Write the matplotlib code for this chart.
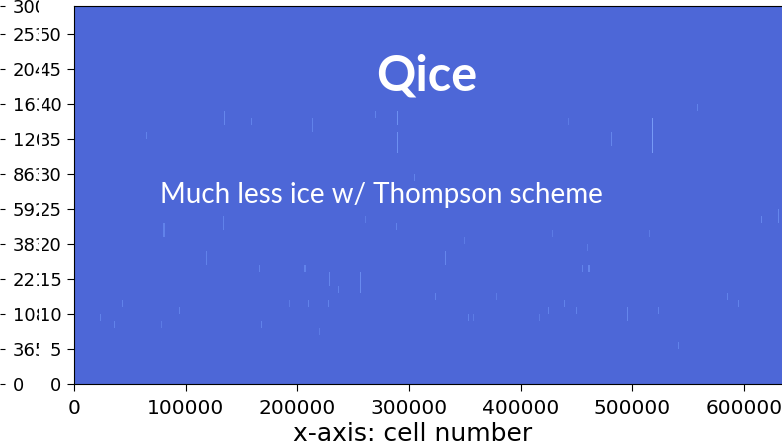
import numpy as np
import matplotlib.pyplot as plt
from matplotlib.transforms import Bbox, TransformedBbox

# mesh size and vertical levels
n_cells = 655362
n_levels = 54
col_width = 1000  # cells per image column

# thin ice columns: first cell, lowest level, highest level, value
ice_cell = [64000, 134000, 158000, 213000, 269000, 289000, 289000, 304000,
            557000, 442000, 480000, 517000, 80000, 133000, 260000, 288000,
            614000, 629000, 427000, 514000, 118000, 165000, 206000, 349000,
            332000, 459000, 454000, 460000, 228000, 236000, 256000, 43000,
            94000, 23000, 36000, 78000, 167000, 192000, 209000, 227000,
            323000, 377000, 352000, 357000, 424000, 416000, 219000, 438000,
            449000, 494000, 522000, 584000, 594000, 540000]
ice_lo = [35, 37, 37, 36, 38, 37, 33, 29, 39, 37, 34, 33, 21, 22, 23, 22,
          23, 23, 21, 21, 17, 16, 16, 20, 17, 19, 16, 16, 14, 13, 13, 11,
          10, 9, 8, 8, 8, 11, 11, 11, 12, 12, 9, 9, 10, 9, 7, 11,
          10, 9, 10, 12, 11, 5]
ice_hi = [35, 38, 37, 37, 38, 38, 35, 29, 39, 37, 35, 37, 22, 23, 23, 22,
          23, 24, 21, 21, 18, 16, 16, 20, 18, 19, 16, 16, 15, 13, 15, 11,
          10, 9, 8, 8, 8, 11, 11, 11, 12, 12, 9, 9, 10, 9, 7, 11,
          10, 10, 10, 12, 11, 5]
ice_val = [0.5, 0.6, 0.5, 0.5, 0.5, 0.8, 0.8, 0.5, 0.5, 0.4, 0.6, 1.0,
           0.5, 0.5, 0.4, 0.5, 0.6, 0.6, 0.4, 0.4, 0.5, 0.5, 0.5, 0.4,
           0.6, 0.4, 0.5, 0.6, 0.6, 0.5, 0.7, 0.5, 0.5, 0.5, 0.5, 0.4,
           0.5, 0.4, 0.5, 0.5, 0.5, 0.4, 0.5, 0.4, 0.5, 0.4, 0.4, 0.5,
           0.5, 0.6, 0.5, 0.5, 0.5, 0.5]

x_ticks = [0, 100000, 200000, 300000, 400000, 500000, 600000]
x_labels = ["0", "100000", "200000", "300000", "400000", "500000", "600000"]
level_ticks = [0, 5, 10, 15, 20, 25, 30, 35, 40, 45, 50]
height_ticks = [0, 5, 10, 15, 20, 25, 30, 35, 40, 45, 50, 54]
height_labels = ["0", "365", "1080", "2215", "3830", "5925", "8630",
                 "12085", "16310", "20445", "25350", "30000"]

ncol = n_cells // col_width + 1
qice = np.zeros((n_levels, ncol))
for c, lo, hi, v in zip(ice_cell, ice_lo, ice_hi, ice_val):
    qice[lo:hi + 1, c // col_width] = v

W, H = 782, 444
fig = plt.figure(figsize=(W / 100, H / 100), dpi=100)
ax = fig.add_axes([74 / W, 1 - 384 / H, 732 / W, 378 / H])
ax.imshow(qice, cmap="coolwarm", vmin=-0.5, vmax=7.5, aspect="auto",
          origin="lower", interpolation="nearest",
          extent=(0, ncol * col_width, 0, n_levels))
ax.set_xlim(0, n_cells)
ax.set_ylim(0, n_levels)
ax.spines["right"].set_visible(False)

ax.set_xticks(x_ticks, labels=x_labels)
ax.set_yticks(level_ticks)
ax.tick_params(axis="x", length=5, pad=6, labelsize=14.5)
ax.tick_params(axis="y", length=5, pad=4, labelsize=13)
ax.set_xlabel("x-axis: cell number", fontsize=18)
ax.xaxis.set_label_coords((413 - 74) / 732, (384 - 422) / 378)

# height axis sitting further left
hax = ax.secondary_yaxis(-74 / 732)
hax.set_alignment("right")
hax.spines["right"].set_visible(False)
hax.spines["left"].set_visible(False)
hax.set_yticks(height_ticks, labels=height_labels)
hax.tick_params(length=3.6, pad=5.5, labelsize=13)

cut = 39 / W
left_box = TransformedBbox(Bbox.from_extents(0, 0, cut, 1), fig.transFigure)
right_box = TransformedBbox(Bbox.from_extents(cut + 3 / W, 0, 1, 1), fig.transFigure)
for lbl in hax.get_yticklabels():
    lbl.set_clip_box(left_box)
    lbl.set_clip_on(True)
for lbl in ax.get_yticklabels():
    lbl.set_clip_box(right_box)
    lbl.set_clip_on(True)

ax.text((427 - 74) / 732, (384 - 90) / 378, "Qice", transform=ax.transAxes,
        ha="center", va="baseline", color="white", fontsize=35,
        fontweight="bold", family="Lato")
ax.text((160 - 74) / 732, (384 - 203) / 378, "Much less ice w/ Thompson scheme",
        transform=ax.transAxes, ha="left", va="baseline", color="white",
        fontsize=20, family="Lato")

fig.savefig("out.png", dpi=100)
